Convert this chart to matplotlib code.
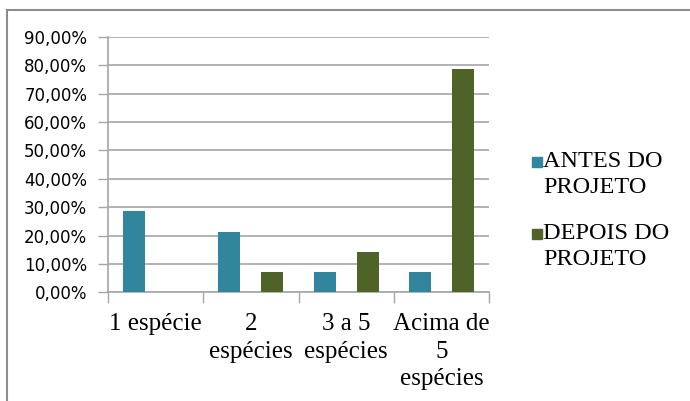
import numpy as np
import matplotlib
matplotlib.use('Agg')
from matplotlib import pyplot as plt
from matplotlib.patches import Rectangle
from matplotlib.ticker import FuncFormatter

categorias = ['1 espécie', '2\nespécies', '3 a 5\nespécies', 'Acima de\n5\nespécies']
antes = [0.2857, 0.2143, 0.0714, 0.0714]
depois = [0.0, 0.0714, 0.1429, 0.7857]
series = ['ANTES DO\nPROJETO', 'DEPOIS DO\nPROJETO']
cores = ['#31859C', '#4F6228']

fig = plt.figure(figsize=(6.9, 4.01), dpi=100)
ax = fig.add_axes([108 / 690, 1 - 292.3 / 401, 381 / 690, 255.3 / 401])

x = np.arange(len(categorias))
largura = 0.23
desloc = 0.226
ax.bar(x - desloc, antes, largura, color=cores[0], zorder=3)
ax.bar(x + desloc, depois, largura, color=cores[1], zorder=3)

ax.set_xlim(-0.5, len(categorias) - 0.5)
ax.set_ylim(0, 0.9)
ax.set_yticks(np.arange(0, 0.91, 0.1))
ax.yaxis.set_major_formatter(FuncFormatter(lambda v, p: f'{v * 100:.2f}%'.replace('.', ',')))
ax.yaxis.grid(True, color='#a6a6a6', linewidth=1.2, zorder=0)
ax.tick_params(axis='y', length=7, width=1, color='#a6a6a6', labelsize=12,
               labelcolor='#000000', pad=8)

ax.set_xticks(x)
ax.set_xticklabels(categorias, fontfamily='Liberation Serif', fontsize=18,
                   linespacing=1.32)
ax.set_xticks(np.arange(-0.5, len(categorias), 1), minor=True)
ax.tick_params(axis='x', which='major', length=0, pad=15)
ax.tick_params(axis='x', which='minor', length=8, width=1, color='#a6a6a6')

for lado in ['top', 'right']:
    ax.spines[lado].set_visible(False)
for lado in ['left', 'bottom']:
    ax.spines[lado].set_color('#a6a6a6')
    ax.spines[lado].set_linewidth(1.2)

# legenda desenhada à direita, quadrado alinhado à primeira linha
for i, (nome, cor) in enumerate(zip(series, cores)):
    ytxt = 1 - (155 + i * 72) / 401
    fig.add_artist(Rectangle((532 / 690, ytxt - 0.030), 10 / 690, 10 / 401,
                             transform=fig.transFigure, color=cor))
    fig.text(543 / 690, ytxt + 0.009, nome, fontfamily='Liberation Serif',
             fontsize=17.5, va='top', ha='left', linespacing=1.3)

# moldura do gráfico
fig.add_artist(Rectangle((7 / 690, -0.1), 1.2, 1 - 10 / 401 + 0.1,
                         transform=fig.transFigure, fill=False,
                         edgecolor='#8c8c8c', linewidth=1.5))

plt.savefig('out.png', dpi=100)
